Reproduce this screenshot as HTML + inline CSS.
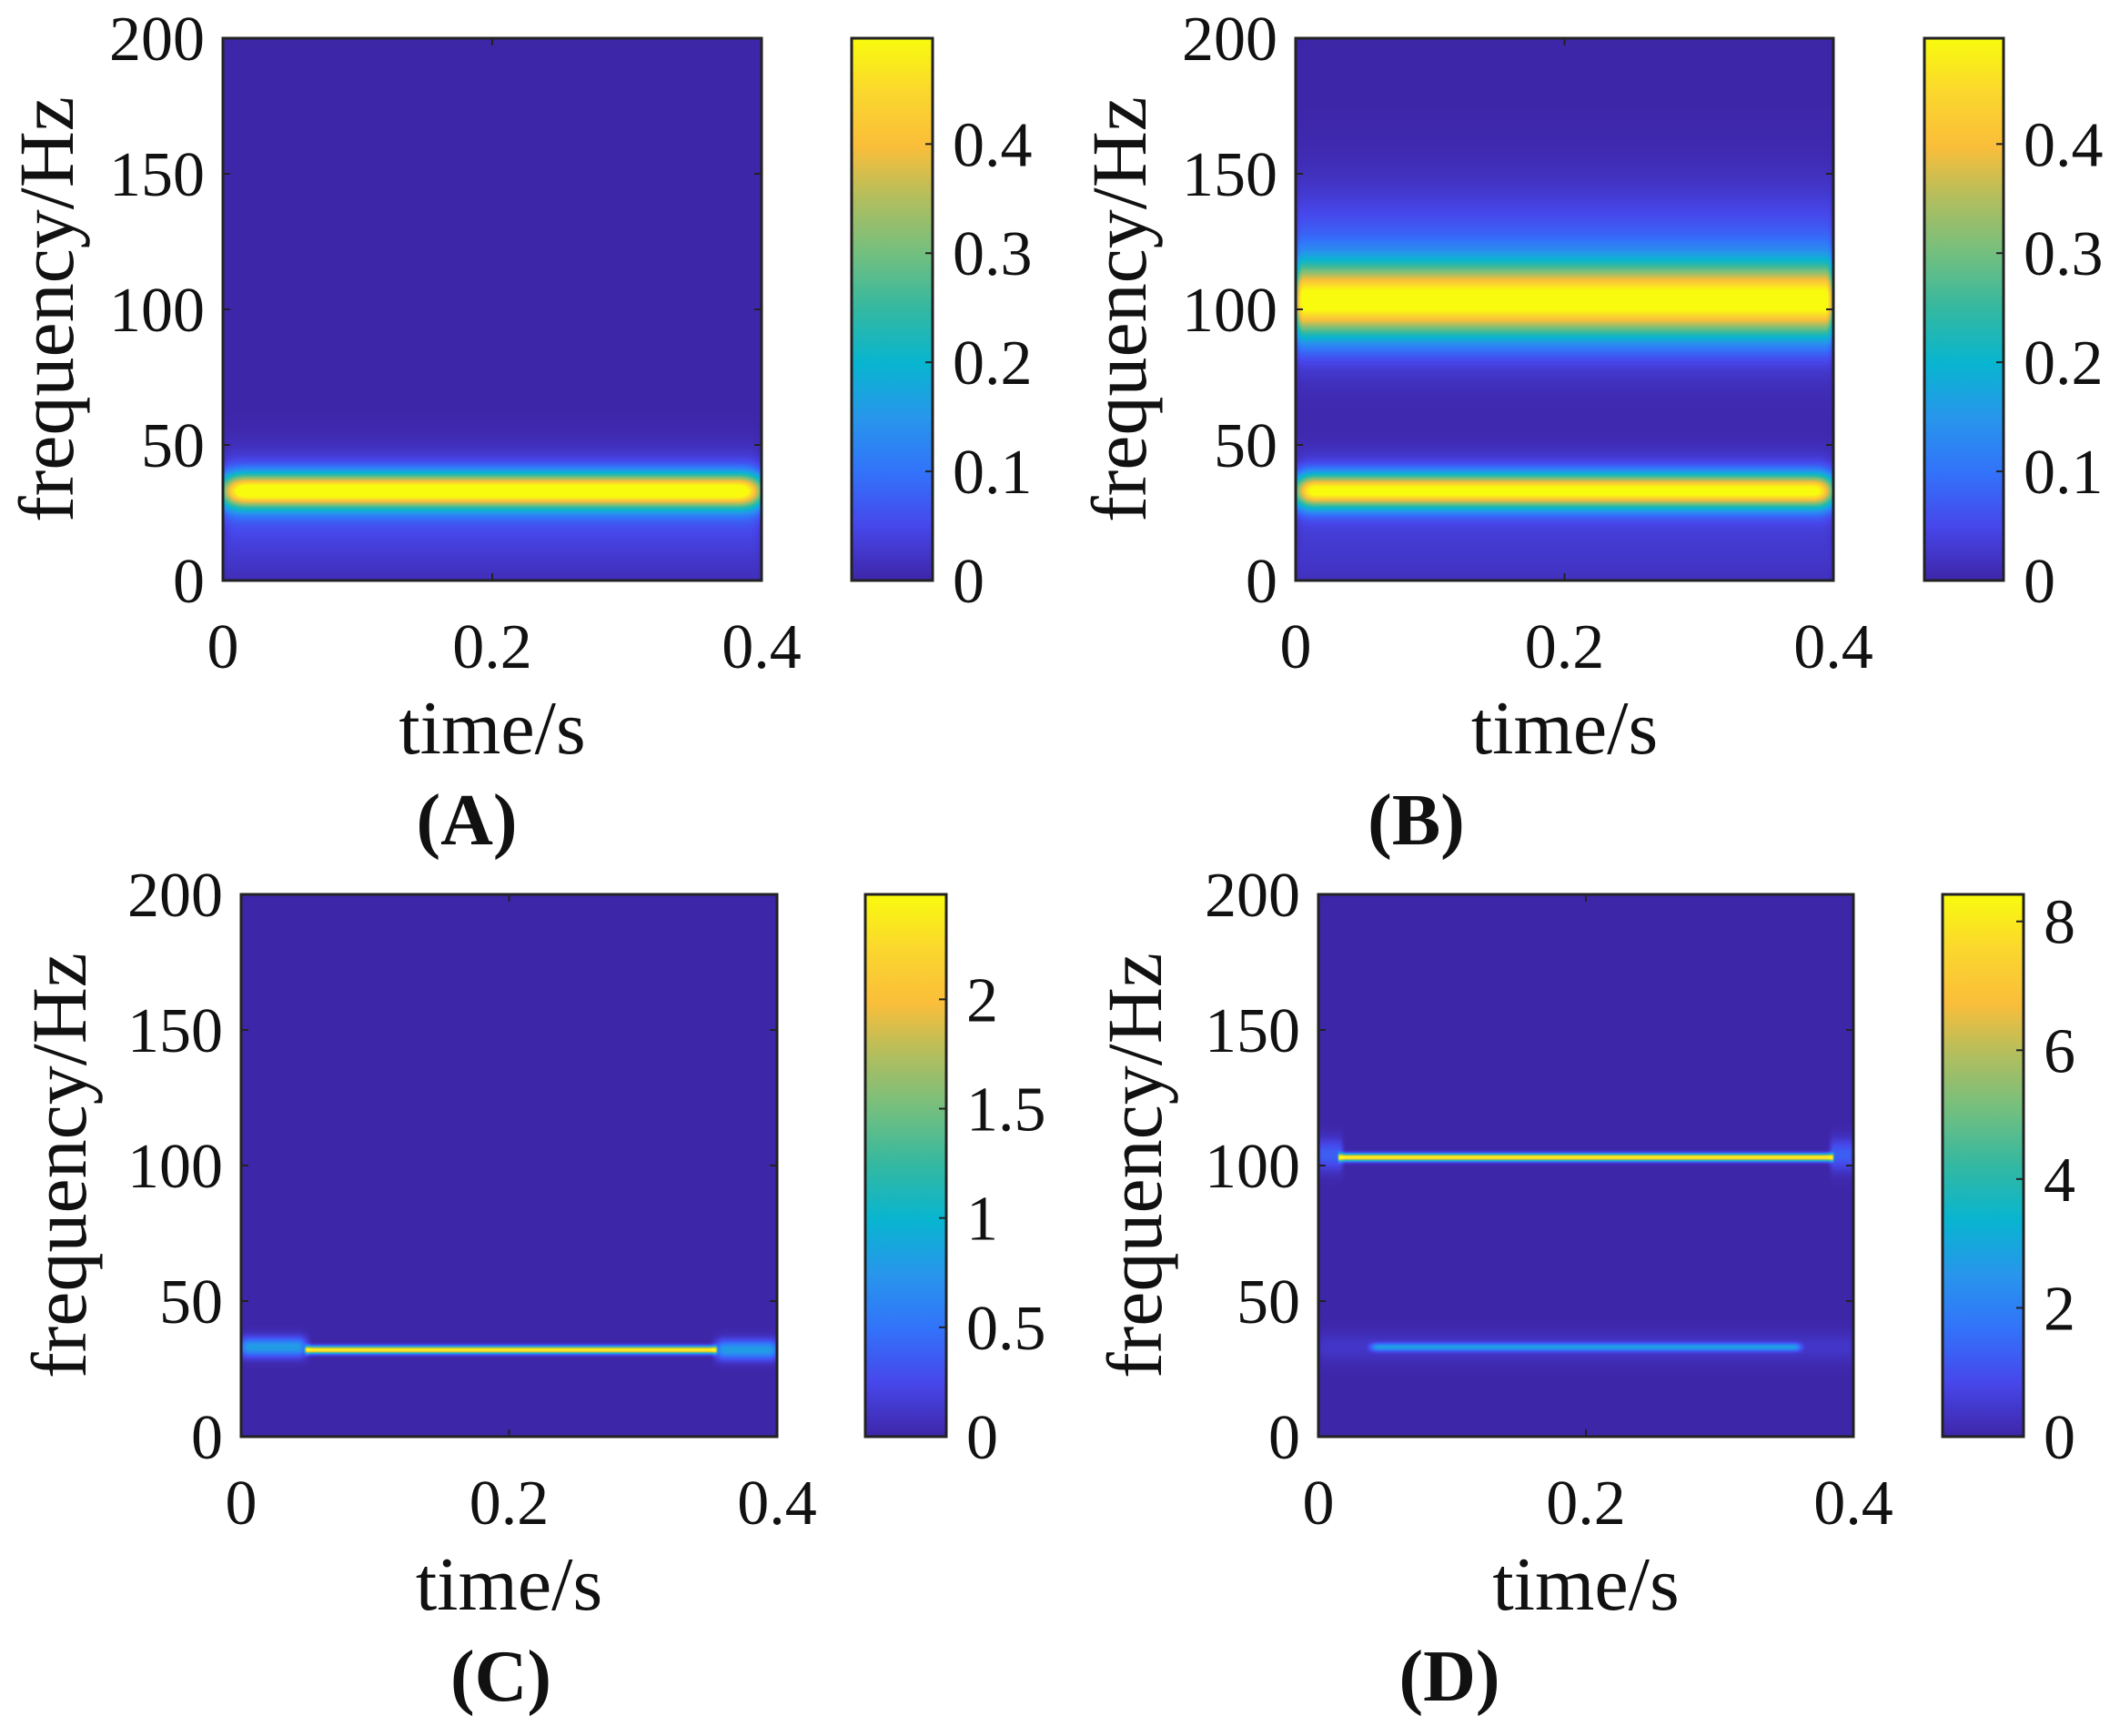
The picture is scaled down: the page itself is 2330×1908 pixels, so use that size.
<!DOCTYPE html>
<html><head><meta charset="utf-8">
<style>
html,body{margin:0;padding:0;background:#fff;}
body{width:2330px;height:1908px;position:relative;overflow:hidden;font-family:"Liberation Serif",serif;}
svg{position:absolute;left:0;top:0;}
canvas{position:absolute;}
</style></head>
<body>
<svg id="fig" width="2330" height="1908"></svg>
<script>
// ---- data ----
const yTicks = [0, 50, 100, 150, 200];
const xTicks = [0, 0.2, 0.4];
const xTickLabels = ["0", "0.2", "0.4"];
const cbTicksA = [0, 0.1, 0.2, 0.3, 0.4];
const cbTicksB = [0, 0.1, 0.2, 0.3, 0.4];
const cbTicksC = [0, 0.5, 1, 1.5, 2];
const cbTicksD = [0, 2, 4, 6, 8];
const cMax = [0.497, 0.497, 2.48, 8.42];
// bands: [centerHz, sigmaHz, peak, tStart, tEnd, edgeSec]
const bandsA = [[33, 4.3, 0.47, 0.0, 0.4, 0.035], [32, 10, 0.08, 0.0, 0.4, 0.02], [12, 10, 0.025, 0.0, 0.4, 0.01]];
const bandsB = [[103, 9, 0.44, 0.0, 0.4, 0.012], [112, 20, 0.1, 0.0, 0.4, 0.01], [33, 4.2, 0.45, 0.0, 0.4, 0.03], [33, 9, 0.07, 0.0, 0.4, 0.02], [10, 10, 0.025, 0.0, 0.4, 0.01]];
const bandsC = [[32, 0.9, 2.48, 0.048, 0.355, 0.003], [33, 2.5, 0.8, 0.0, 0.048, 0.012], [32, 2.5, 0.8, 0.355, 0.4, 0.012]];
const bandsD = [[103, 0.9, 8.4, 0.015, 0.385, 0.002], [33, 1.0, 2.4, 0.04, 0.36, 0.01], [33, 4, 0.4, 0.0, 0.4, 0.01], [104, 4, 1.3, 0.0, 0.018, 0.006], [104, 4, 1.3, 0.383, 0.4, 0.006]];

const panels = [
 {id:"a", label:"(A)", lx:-28, x0:245, x1:837, y0:42, y1:638, cb0:936, cb1:1025, bands:bandsA, cbt:cbTicksA, cmax:cMax[0], ylabX:52},
 {id:"b", label:"(B)", lx:-163, x0:1424, x1:2015, y0:42, y1:638, cb0:2115, cb1:2202, bands:bandsB, cbt:cbTicksB, cmax:cMax[1], ylabX:1231},
 {id:"c", label:"(C)", lx:-9, x0:265, x1:854, y0:983, y1:1579, cb0:951, cb1:1040, bands:bandsC, cbt:cbTicksC, cmax:cMax[2], ylabX:66},
 {id:"d", label:"(D)", lx:-150, x0:1449, x1:2037, y0:983, y1:1579, cb0:2135, cb1:2224, bands:bandsD, cbt:cbTicksD, cmax:cMax[3], ylabX:1248}
];

const parula = [[0,62,38,168],[0.1,71,71,235],[0.2,50,115,250],[0.3,39,150,235],[0.4,8,181,208],[0.5,51,184,161],[0.6,113,191,128],[0.7,175,190,95],[0.8,250,190,58],[0.9,250,215,45],[1,249,251,14]];
function cmap(v){
  v=Math.max(0,Math.min(1,v));
  for(let i=1;i<parula.length;i++){
    if(v<=parula[i][0]){const a=parula[i-1],b=parula[i];const t=(v-a[0])/(b[0]-a[0]);
      return [a[1]+(b[1]-a[1])*t,a[2]+(b[2]-a[2])*t,a[3]+(b[3]-a[3])*t];}
  }
  return [249,251,14];
}
const NS="http://www.w3.org/2000/svg";
const svg=document.getElementById('fig');
function el(tag,attrs,parent){const e=document.createElementNS(NS,tag);for(const k in attrs)e.setAttribute(k,attrs[k]);(parent||svg).appendChild(e);return e;}
function txt(s,x,y,size,anchor,parent,extra){const t=el('text',Object.assign({x:x,y:y,'font-size':size,'text-anchor':anchor,fill:'#111','font-family':'Liberation Serif, serif'},extra||{}),parent);t.textContent=s;return t;}

function smooth(x){x=Math.max(0,Math.min(1,x));return x*x*(3-2*x);}

panels.forEach(p=>{
  const g=el('g',{});
  
  
  const W=p.x1-p.x0,H=p.y1-p.y0;
  const xs=t=>p.x0+t/0.4*W;
  const ys=f=>p.y1-f/200*H;
  const cv=document.createElement('canvas');
  cv.width=W;cv.height=H;cv.style.left=p.x0+'px';cv.style.top=p.y0+'px';
  
  
  document.body.insertBefore(cv,svg);
  const ctx=cv.getContext('2d');const img=ctx.createImageData(W,H);
  for(let py=0;py<H;py++){
    const f=200*(1-(py+0.5)/H);
    for(let px=0;px<W;px++){
      const t=0.4*(px+0.5)/W;
      let v=0;
      p.bands.forEach(b=>{
        const [fc,sg,pk,t0,t1,e]=b;
        const d=(f-fc)/sg;
        const ft=smooth((t-t0)/e+0.5)*smooth((t1-t)/e+0.5);
        v+=pk*Math.exp(-0.5*d*d)*ft;
      });
      const c=cmap(v/p.cmax);const i=(py*W+px)*4;
      img.data[i]=c[0];img.data[i+1]=c[1];img.data[i+2]=c[2];img.data[i+3]=255;
    }
  }
  ctx.putImageData(img,0,0);
  const box=el('rect',{x:p.x0,y:p.y0,width:W,height:H,fill:'none',stroke:'#222','stroke-width':3},g);
  
  
  yTicks.forEach(v=>{
    el('line',{x1:p.x0,x2:p.x0+8,y1:ys(v),y2:ys(v),stroke:'#222','stroke-width':2},g);
    el('line',{x1:p.x1,x2:p.x1-8,y1:ys(v),y2:ys(v),stroke:'#222','stroke-width':2},g);
    const t=txt(String(v),p.x0-20,ys(v)+24,70,'end',g);
    
    
  });
  xTicks.forEach((v,i)=>{
    el('line',{x1:xs(v),x2:xs(v),y1:p.y1,y2:p.y1-8,stroke:'#222','stroke-width':2},g);
    el('line',{x1:xs(v),x2:xs(v),y1:p.y0,y2:p.y0+8,stroke:'#222','stroke-width':2},g);
    const t=txt(xTickLabels[i],xs(v),p.y1+96,70,'middle',g);
    
    
  });
  const xl=txt('time/s',(p.x0+p.x1)/2,p.y1+190,84,'middle',g);
  
  
  const yl=txt('frequency/Hz',0,0,86,'middle',g,{transform:'translate('+(p.ylabX+28)+','+((p.y0+p.y1)/2)+') rotate(-90)'});
  
  
  const pl=txt(p.label,(p.x0+p.x1)/2+p.lx,p.y1+290,80,'middle',g,{'font-weight':'bold'});
  
  
  const gid='grad-'+p.id;
  const defs=el('defs',{},g);
  const lg=el('linearGradient',{id:gid,x1:0,y1:1,x2:0,y2:0},defs);
  parula.forEach(s=>el('stop',{offset:s[0],'stop-color':'rgb('+s[1]+','+s[2]+','+s[3]+')'},lg));
  const cb=el('rect',{x:p.cb0,y:p.y0,width:p.cb1-p.cb0,height:H,fill:'url(#'+gid+')',stroke:'#222','stroke-width':3},g);
  
  
  p.cbt.forEach(v=>{
    const y=p.y1-v/p.cmax*H;
    el('line',{x1:p.cb1,x2:p.cb1-8,y1:y,y2:y,stroke:'#222','stroke-width':2},g);
    const t=txt(String(v),p.cb1+22,y+24,70,'start',g);
    
    
  });
});
</script>
</body></html>
